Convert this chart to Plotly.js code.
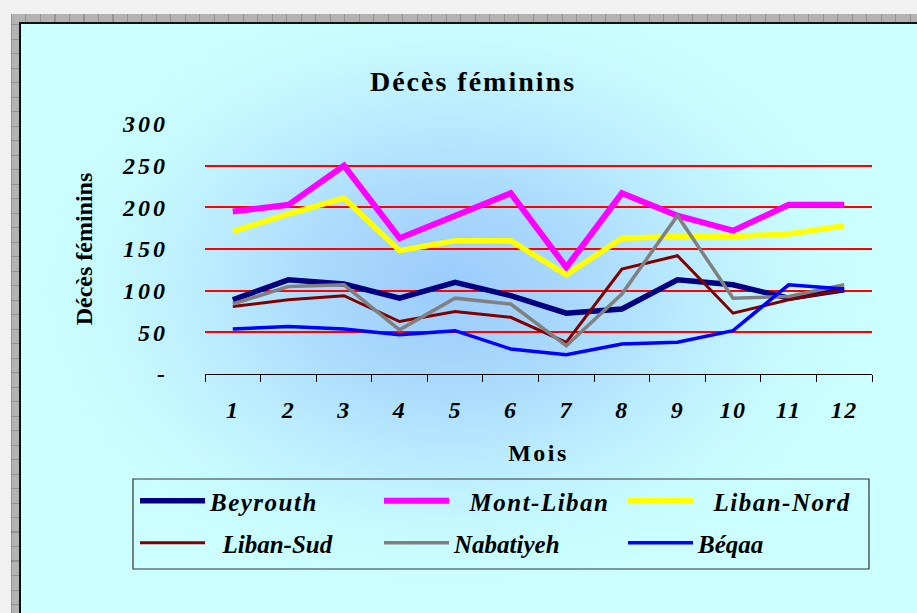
<!DOCTYPE html>
<html>
<head>
<meta charset="utf-8">
<script src="https://cdn.plot.ly/plotly-3.0.1.min.js"></script>
<style>
  html, body { margin:0; padding:0; width:917px; height:613px; overflow:hidden; background:#f1f1f1; }
  #frame { position:absolute; left:11px; top:14px; width:930px; height:620px;
    background-color:#b3b3b3;
    background-image: repeating-linear-gradient(90deg, rgba(0,0,0,0.18) 0px, rgba(0,0,0,0.18) 1px, transparent 1px, transparent 14.5px),
                      repeating-linear-gradient(0deg, rgba(0,0,0,0.18) 0px, rgba(0,0,0,0.18) 1px, transparent 1px, transparent 14.5px); }
  #panel { position:absolute; left:19px; top:22px; width:920px; height:610px;
    border-left:2px solid #111; border-top:2px solid #111;
    background: radial-gradient(ellipse 430px 310px at 430px 265px, #9bcbfb 0%, #a9d9fc 30%, #bdeeff 60%, #c8fbff 82%, #ccffff 100%); }
  #chart { position:absolute; left:0; top:0; width:917px; height:613px; }
  .legendtext { letter-spacing: 1.5px; }
  .ytick text { letter-spacing: 3px; }
  .xtick text { letter-spacing: 1.5px; }
  .gtitle { letter-spacing: 2px; }
  .xtitle { letter-spacing: 2.5px; }
</style>
</head>
<body>
<div id="frame"></div>
<div id="panel"></div>
<div id="chart"></div>
<script>
// ---- data ----
const months = ['1','2','3','4','5','6','7','8','9','10','11','12'];
const beyrouth  = [89,113,108,91,110,94,73,78,113,107,91,101];
const montLiban = [195,203,250,163,190,217,128,217,190,172,203,203];
const libanNord = [171,192,211,148,160,160,119,163,165,165,168,178];
const libanSud  = [81,89,94,63,75,68,38,126,142,73,89,101];
const nabatiyeh = [84,105,107,53,91,84,34,96,190,91,93,107];
const beqaa     = [54,57,54,47,52,30,23,36,38,52,107,102];
const seriesNames = ['Beyrouth','\u00a0\u00a0Mont-Liban','\u00a0\u00a0Liban-Nord','\u00a0\u00a0Liban-Sud','Nabatiyeh','Béqaa'];
const yTickVals = [0,50,100,150,200,250,300];
const yTickText = ['-','50','100','150','200','250','300'];

const serif = 'Liberation Serif, Times New Roman, serif';
const colors = ['#000080','#ff00ff','#ffff00','#800000','#808080','#0000ff'];
const widths = [5.5,6,5.5,3,3.5,3.5];
const values = [beyrouth, montLiban, libanNord, libanSud, nabatiyeh, beqaa];

const traces = values.map((v,i)=>({
  type:'scatter', mode:'lines', x: months, y: v, name: seriesNames[i],
  line:{color:colors[i], width:widths[i]},
  legend: i < 3 ? 'legend' : 'legend2',
  hoverinfo:'skip'
}));

const L = 205, R = 45, T = 124, B = 239;
const pw = 917 - L - R, ph = 613 - T - B;
const px = xp => (xp - L) / pw;
const py = yp => (613 - B - yp) / ph;

const legFont = {family: serif, size: 25, color:'#000', weight:'bold', style:'italic'};
const legCommon = {orientation:'h', xanchor:'left', yanchor:'middle', entrywidth:164, entrywidthmode:'pixels',
  itemwidth:65, font: legFont, bgcolor:'rgba(0,0,0,0)', borderwidth:0, traceorder:'normal'};

const layout = {
  width:917, height:613,
  margin:{l:L, r:R, t:T, b:B},
  paper_bgcolor:'rgba(0,0,0,0)', plot_bgcolor:'rgba(0,0,0,0)',
  showlegend:true,
  title:{text:'Décès féminins', x: px(473), xref:'paper', xanchor:'center', y: 1-81/613, yref:'container', yanchor:'middle',
    font:{family:serif, size:28, weight:'bold', color:'#000'}},
  xaxis:{type:'category', range:[-0.5,11.5], showline:true, linecolor:'#000', linewidth:1,
    ticks:'outside', tickson:'boundaries', ticklen:7, tickcolor:'#000', tickwidth:1,
    showgrid:false, zeroline:false, ticklabelstandoff:14,
    tickfont:{family:serif, size:24, weight:'bold', style:'italic', color:'#000'},
    title:{text:'Mois', standoff:22, font:{family:serif, size:24, weight:'bold', color:'#000'}}},
  yaxis:{range:[0,300], tickvals:yTickVals, ticktext:yTickText, showline:false, zeroline:false,
    showgrid:true, gridcolor:'#ff0000', gridwidth:2, ticks:'', ticklabelstandoff:36,
    tickfont:{family:serif, size:24, weight:'bold', style:'italic', color:'#000'},
    title:{text:'Décès féminins', standoff:22, font:{family:serif, size:24, weight:'bold', color:'#000'}}},
  legend: Object.assign({}, legCommon, {x: px(135), y: py(501)}),
  legend2: Object.assign({}, legCommon, {x: px(135), y: py(543)}),
  shapes:[{type:'rect', xref:'paper', yref:'paper', x0:px(133), x1:px(869), y0:py(569), y1:py(479),
    line:{color:'#333', width:1.2}, fillcolor:'rgba(0,0,0,0)', layer:'below'}]
};

Plotly.newPlot('chart', traces, layout, {displayModeBar:false, staticPlot:true});
</script>
</body>
</html>
